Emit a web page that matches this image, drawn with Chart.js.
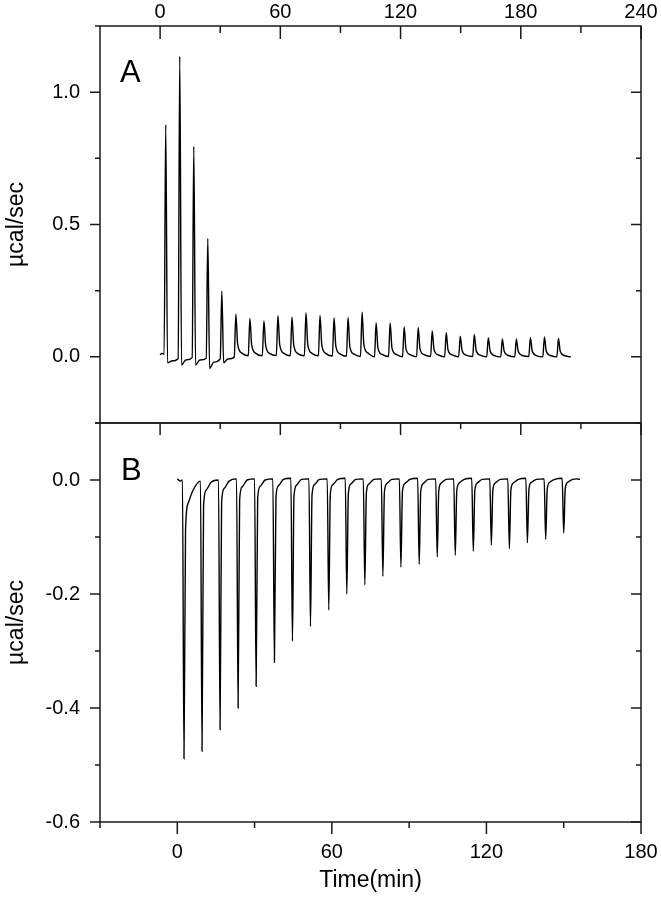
<!DOCTYPE html>
<html><head><meta charset="utf-8">
<script src="https://cdn.jsdelivr.net/npm/chart.js@4.4.1/dist/chart.umd.min.js"></script>
<style>
html,body{margin:0;padding:0;background:#fff;}
#wrap{position:relative;width:661px;height:899px;overflow:hidden;background:#fff;}
#cA{position:absolute;left:0;top:0;}
#cB{position:absolute;left:0;top:400px;}
</style></head><body>
<div id="wrap">
<canvas id="cA" width="661" height="445"></canvas>
<canvas id="cB" width="661" height="499"></canvas>
</div>
<script>
// ---------- Panel A (top) ----------
const xTicksA = [0, 60, 120, 180, 240];
const xMinorA = [30, 90, 150, 210];
const yTicksA = [0.0, 0.5, 1.0];
const yMinorA = [-0.25, 0.25, 0.75, 1.25];

const injTimeA = [2.8, 9.8, 16.8, 23.8, 30.8, 37.8, 44.8, 51.8, 58.8, 65.8, 72.8, 79.8, 86.8, 93.8, 100.8,
  107.8, 114.8, 121.8, 128.8, 135.8, 142.8, 149.8, 156.8, 163.8, 170.8, 177.8, 184.8, 191.8, 198.8];
const preA  = [0.010, -0.007, -0.003, -0.005, -0.008, -0.002, 0.004, 0.004, 0.005, 0.004, 0.004, 0.004, 0.003, 0.002, 0.001,
  0.000, 0.001, 0.000, 0.000, 0.001, 0.000, 0.000, 0.001, 0.000, 0.000, 0.000, 0.001, 0.000, 0.000];
const peakA = [0.877, 1.135, 0.795, 0.447, 0.248, 0.161, 0.145, 0.136, 0.155, 0.151, 0.166, 0.156, 0.148, 0.149, 0.169,
  0.128, 0.128, 0.113, 0.111, 0.098, 0.091, 0.078, 0.085, 0.072, 0.068, 0.068, 0.073, 0.075, 0.069];
const dropA = [-0.023, -0.031, -0.031, -0.044, -0.023, 0.048, 0.045, 0.042, 0.045, 0.044, 0.046, 0.044, 0.040, 0.038, 0.045,
  0.034, 0.034, 0.030, 0.030, 0.028, 0.026, 0.024, 0.025, 0.022, 0.021, 0.021, 0.022, 0.022, 0.020];
const tailA = [-0.016, -0.012, -0.012, -0.020, -0.008, 0.014, 0.013, 0.012, 0.013, 0.012, 0.013, 0.012, 0.011, 0.010, 0.014,
  0.009, 0.009, 0.008, 0.008, 0.007, 0.007, 0.006, 0.006, 0.005, 0.005, 0.005, 0.005, 0.005, 0.005];
const offsetsA = [-0.8, 0, 0.9, 3.0];        // min, relative to each injection peak
const leadA = [[-0.1, 0.008], [1.0, 0.013]];
const trailA = [[203.0, 0.002], [205.0, 0.000]];

// ---------- Panel B (bottom) ----------
const xTicksB = [0, 60, 120, 180];
const xMinorB = [-30, 30, 90, 150];
const yTicksB = [0.0, -0.2, -0.4, -0.6];
const yMinorB = [0.1, -0.1, -0.3, -0.5];

const injTimeB = [2.6, 9.6, 16.6, 23.6, 30.6, 37.7, 44.7, 51.7, 58.8, 65.8, 72.8, 79.8, 86.8, 93.9, 100.9,
  107.9, 114.9, 121.9, 128.9, 135.9, 143.0, 150.0];
const preB = [0.000, -0.002, 0.000, 0.002, 0.002, 0.002, 0.003, 0.002, 0.002, 0.003, 0.002, 0.002, 0.002, 0.003, 0.002,
  0.002, 0.003, 0.002, 0.002, 0.003, 0.002, 0.003];
const minB = [-0.489, -0.476, -0.438, -0.400, -0.362, -0.320, -0.283, -0.257, -0.228, -0.200, -0.184, -0.169, -0.153,
  -0.148, -0.135, -0.132, -0.125, -0.114, -0.120, -0.110, -0.104, -0.093];
const r1B = [-0.088, -0.045, -0.040, -0.035, -0.032, -0.030, -0.028, -0.026, -0.025, -0.024, -0.022, -0.021, -0.020,
  -0.020, -0.019, -0.018, -0.018, -0.017, -0.017, -0.016, -0.016, -0.015];
const r2B = [-0.041, -0.018, -0.015, -0.012, -0.011, -0.010, -0.009, -0.008, -0.008, -0.007, -0.007, -0.006, -0.006,
  -0.006, -0.005, -0.005, -0.005, -0.005, -0.005, -0.004, -0.004, -0.004];
const r3B = [-0.018, -0.004, -0.002, 0.000, 0.000, 0.001, 0.001, 0.001, 0.001, 0.001, 0.001, 0.001, 0.001,
  0.001, 0.001, 0.001, 0.001, 0.001, 0.001, 0.001, 0.001, 0.001];
const offsetsB = [-0.6, 0, 0.6, 1.6, 3.5];
const leadB = [[0.0, 0.002], [1.2, -0.002]];
const trailB = [[155.0, 0.002], [156.3, 0.001]];

// ---------- build traces from the read values ----------
function buildTrace(lead, times, offsets, cols, trail) {
  const pts = lead.map(p => ({x: p[0], y: p[1]}));
  times.forEach((t, k) => {
    offsets.forEach((o, j) => pts.push({x: t + o, y: cols[j][k]}));
  });
  trail.forEach(p => pts.push({x: p[0], y: p[1]}));
  return pts;
}
const traceA = buildTrace(leadA, injTimeA, offsetsA, [preA, peakA, dropA, tailA], trailA);
const traceB = buildTrace(leadB, injTimeB, offsetsB, [preB, minB, r1B, r2B, r3B], trailB);

const FONT = 'Liberation Sans';

const framePlugin = {
  id: 'frame',
  afterDraw(chart, args, o) {
    const ctx = chart.ctx, a = chart.chartArea;
    ctx.save();
    ctx.strokeStyle = '#1a1a1a';
    ctx.lineWidth = 1.5;
    ctx.strokeRect(a.left, a.top, a.right - a.left, a.bottom - a.top);
    ctx.beginPath();
    for (const t of o.ticks) {
      const s = chart.scales[t.scale];
      const sign = t.out ? 1 : -1;
      for (const [vals, len] of [[t.major, t.majorLen], [t.minor, t.minorLen]]) {
        for (const v of vals) {
          const p = s.getPixelForValue(v);
          if (t.edge === 'top') { ctx.moveTo(p, a.top); ctx.lineTo(p, a.top - sign * len); }
          else if (t.edge === 'bottom') { ctx.moveTo(p, a.bottom); ctx.lineTo(p, a.bottom + sign * len); }
          else if (t.edge === 'left') { ctx.moveTo(a.left, p); ctx.lineTo(a.left - sign * len, p); }
          else { ctx.moveTo(a.right, p); ctx.lineTo(a.right + sign * len, p); }
        }
      }
    }
    ctx.stroke();
    if (o.letter) {
      ctx.fillStyle = '#000';
      ctx.font = '31px "' + FONT + '"';
      ctx.textBaseline = 'alphabetic';
      ctx.textAlign = 'left';
      ctx.fillText(o.letter.text, o.letter.x, o.letter.y);
    }
    ctx.restore();
  }
};

const tickFont = {family: FONT, size: 20};
const noGrid = {display: false, drawTicks: false};
const lineStyle = {borderColor: '#000', borderWidth: 1.4, pointRadius: 0, fill: false, cubicInterpolationMode: 'monotone'};
const fitX = h => s => { s.height = h; s.paddingLeft = 0; s.paddingRight = 0; };
const fitY = w => s => { s.width = w; s.paddingTop = 0; s.paddingBottom = 0; };

new Chart(document.getElementById('cA'), {
  type: 'line',
  data: {datasets: [Object.assign({data: traceA}, lineStyle)]},
  options: {
    responsive: false, animation: false, events: [],
    layout: {padding: {left: 0, right: 20, top: 0, bottom: 22}},
    plugins: {
      legend: {display: false}, tooltip: {enabled: false},
      frame: {
        letter: {text: 'A', x: 120, y: 82},
        ticks: [
          {scale: 'x', edge: 'top', out: false, major: xTicksA, minor: xMinorA, majorLen: 13, minorLen: 7},
          {scale: 'x', edge: 'bottom', out: true, major: xTicksA, minor: xMinorA, majorLen: 12, minorLen: 6},
          {scale: 'y', edge: 'left', out: true, major: yTicksA, minor: yMinorA, majorLen: 10, minorLen: 5},
          {scale: 'y', edge: 'right', out: false, major: yTicksA, minor: [0.25, 0.75], majorLen: 10, minorLen: 5}
        ]
      }
    },
    scales: {
      x: {
        type: 'linear', position: 'top', min: -30, max: 240,
        grid: noGrid, border: {display: false},
        afterBuildTicks: s => { s.ticks = xTicksA.map(v => ({value: v})); },
        afterFit: fitX(26),
        ticks: {font: tickFont, color: '#000', padding: 2, maxRotation: 0, autoSkip: false}
      },
      y: {
        type: 'linear', position: 'left', min: -0.25, max: 1.25,
        grid: noGrid, border: {display: false},
        afterBuildTicks: s => { s.ticks = yTicksA.map(v => ({value: v})); },
        afterFit: fitY(100),
        ticks: {font: tickFont, color: '#000', padding: 20, callback: v => Number(v).toFixed(1)},
        title: {display: true, text: 'µcal/sec', color: '#000', font: {family: FONT, size: 23}, padding: {top: 3, bottom: 0}}
      }
    }
  },
  plugins: [framePlugin]
});

new Chart(document.getElementById('cB'), {
  type: 'line',
  data: {datasets: [Object.assign({data: traceB}, lineStyle)]},
  options: {
    responsive: false, animation: false, events: [],
    layout: {padding: {left: 0, right: 20, top: 23, bottom: 0}},
    plugins: {
      legend: {display: false}, tooltip: {enabled: false},
      frame: {
        letter: {text: 'B', x: 121, y: 80},
        ticks: [
          {scale: 'x', edge: 'bottom', out: true, major: xTicksB, minor: xMinorB, majorLen: 12, minorLen: 6},
          {scale: 'y', edge: 'left', out: true, major: yTicksB, minor: yMinorB, majorLen: 10, minorLen: 5},
          {scale: 'y', edge: 'right', out: false, major: yTicksB, minor: yMinorB, majorLen: 10, minorLen: 5}
        ]
      }
    },
    scales: {
      x: {
        type: 'linear', position: 'bottom', min: -30, max: 180,
        grid: noGrid, border: {display: false},
        afterBuildTicks: s => { s.ticks = xTicksB.map(v => ({value: v})); },
        afterFit: fitX(77),
        ticks: {font: tickFont, color: '#000', padding: 18, maxRotation: 0, autoSkip: false},
        title: {display: true, text: 'Time(min)', color: '#000', font: {family: FONT, size: 23}, padding: {top: 0, bottom: 5}}
      },
      y: {
        type: 'linear', position: 'left', min: -0.6, max: 0.1,
        grid: noGrid, border: {display: false},
        afterBuildTicks: s => { s.ticks = yTicksB.map(v => ({value: v})); },
        afterFit: fitY(100),
        ticks: {font: tickFont, color: '#000', padding: 20, callback: v => Number(v).toFixed(1)},
        title: {display: true, text: 'µcal/sec', color: '#000', font: {family: FONT, size: 23}, padding: {top: 3, bottom: 0}}
      }
    }
  },
  plugins: [framePlugin]
});
</script>
</body></html>
